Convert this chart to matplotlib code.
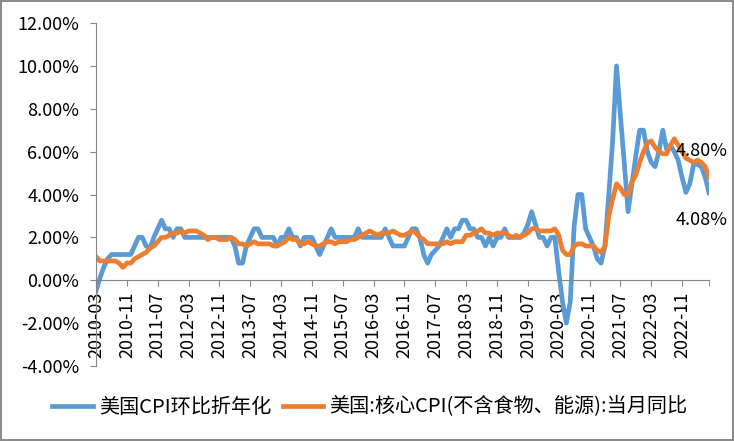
import pandas as pd
import matplotlib.pyplot as plt

plt.rcParams['font.family'] = ['Noto Sans CJK SC', 'DejaVu Sans']

# monthly data, 2010-03 .. 2023-06
months = pd.period_range("2010-03", periods=160, freq="M").strftime("%Y-%m").tolist()

# 美国CPI环比折年化 (%)
cpi_mom_ann = [
    -0.5, 0.1, 0.6, 1.0, 1.2, 1.2, 1.2, 1.2, 1.2, 1.2,              # 2010
    1.6, 2.0, 2.0, 1.6, 1.5, 2.0, 2.4, 2.8, 2.4, 2.4, 2.0, 2.4,      # 2011
    2.4, 2.0, 2.0, 2.0, 2.0, 2.0, 2.0, 2.0, 2.0, 2.0, 2.0, 2.0,      # 2012
    2.0, 2.0, 1.6, 0.8, 0.8, 1.6, 2.0, 2.4, 2.4, 2.0, 2.0, 2.0,      # 2013
    2.0, 1.6, 2.0, 2.0, 2.4, 2.0, 2.0, 1.6, 2.0, 2.0, 2.0, 1.6,      # 2014
    1.2, 1.6, 2.0, 2.4, 2.0, 2.0, 2.0, 2.0, 2.0, 2.0, 2.4, 2.0,      # 2015
    2.0, 2.0, 2.0, 2.0, 2.0, 2.4, 2.0, 1.6, 1.6, 1.6, 1.6, 2.0,      # 2016
    2.4, 2.4, 2.0, 1.2, 0.8, 1.2, 1.4, 1.6, 2.0, 2.4, 2.0, 2.4,      # 2017
    2.4, 2.8, 2.8, 2.4, 2.4, 2.0, 2.0, 1.6, 2.0, 1.6, 2.0, 2.0,      # 2018
    2.4, 2.0, 2.0, 2.0, 2.0, 2.2, 2.6, 3.2, 2.6, 2.0, 2.0, 1.6,      # 2019
    2.0, 2.0, 0.4, -1.0, -2.0, -1.0, 2.5, 4.0, 4.0, 2.4, 2.0, 1.6,   # 2020
    1.0, 0.8, 1.6, 4.0, 6.5, 10.0, 7.7, 5.5, 3.2, 4.5, 5.8, 7.0,     # 2021
    7.0, 6.0, 5.5, 5.3, 6.0, 7.0, 6.1, 6.3, 6.0, 5.6, 4.8, 4.1,      # 2022
    4.5, 5.4, 5.4, 5.3, 4.8, 4.08,                                   # 2023
]

# 美国:核心CPI(不含食物、能源):当月同比 (%)
core_yoy = [
    1.1, 0.9, 0.9, 0.9, 0.9, 0.9, 0.8, 0.6, 0.8, 0.8,
    1.0, 1.1, 1.2, 1.3, 1.5, 1.6, 1.8, 2.0, 2.0, 2.1, 2.2, 2.2,
    2.3, 2.2, 2.3, 2.3, 2.3, 2.2, 2.1, 1.9, 2.0, 2.0, 1.9, 1.9,
    1.9, 2.0, 1.9, 1.7, 1.7, 1.6, 1.7, 1.8, 1.7, 1.7, 1.7, 1.7,
    1.6, 1.6, 1.7, 1.8, 2.0, 1.9, 1.9, 1.7, 1.7, 1.8, 1.7, 1.6,
    1.6, 1.7, 1.8, 1.8, 1.7, 1.8, 1.8, 1.8, 1.9, 1.9, 2.0, 2.1,
    2.2, 2.3, 2.2, 2.1, 2.2, 2.2, 2.2, 2.3, 2.2, 2.1, 2.1, 2.2,
    2.3, 2.2, 2.0, 1.9, 1.7, 1.7, 1.7, 1.7, 1.7, 1.8, 1.7, 1.8,
    1.8, 1.8, 2.1, 2.1, 2.2, 2.3, 2.4, 2.2, 2.2, 2.1, 2.2, 2.2,
    2.2, 2.1, 2.0, 2.1, 2.0, 2.1, 2.2, 2.4, 2.4, 2.3, 2.3, 2.3,
    2.3, 2.4, 2.1, 1.4, 1.2, 1.2, 1.6, 1.7, 1.7, 1.6, 1.6, 1.6,
    1.4, 1.3, 1.6, 3.0, 3.8, 4.5, 4.3, 4.0, 4.0, 4.6, 4.9, 5.5,
    6.0, 6.4, 6.5, 6.2, 6.0, 5.9, 5.9, 6.3, 6.6, 6.3, 6.0, 5.7,
    5.6, 5.5, 5.6, 5.5, 5.3, 4.8,
]

yticks = list(range(-4, 13, 2))
blue = "#5B9BD5"
orange = "#ED7D31"
grey = "#868686"

x = list(range(len(months)))
n = min(len(x), len(cpi_mom_ann), len(core_yoy))

fig = plt.figure(figsize=(7.34, 4.41), dpi=100)
fig.patch.set_edgecolor("#8c8c8c")
fig.patch.set_linewidth(1.5)
ax = fig.add_axes([0.1308, 0.170, 0.966 - 0.1308, 0.9478 - 0.170])

ax.plot(x[:n], cpi_mom_ann[:n], color=blue, lw=3.4, label="美国CPI环比折年化", solid_joinstyle="round")
ax.plot(x[:n], core_yoy[:n], color=orange, lw=3.4, label="美国:核心CPI(不含食物、能源):当月同比", solid_joinstyle="round")

# spines first: moving a spine resets the tick settings
for s in ["top", "right"]:
    ax.spines[s].set_visible(False)
ax.spines["left"].set_color(grey)
ax.spines["bottom"].set_color(grey)
ax.spines["bottom"].set_position(("data", 0))

ax.set_xlim(0, n - 1)
ax.set_ylim(-4, 12)
ax.set_yticks(yticks)
ax.set_yticklabels([f"{v:.2f}%" for v in yticks], fontsize=13)

ax.set_xticks(list(range(0, n - 1, 8)))
ax.set_xticklabels([months[i] for i in range(0, n - 1, 8)], rotation=90, fontsize=13)
ax.set_xticks([n - 1], minor=True)
ax.tick_params(axis="both", which="both", direction="out", length=4, color=grey)
ax.tick_params(axis="y", pad=8)
ax.tick_params(axis="x", pad=4)

# end-value labels
ax.annotate(f"{core_yoy[n-1]:.2f}%", (n - 1, core_yoy[n - 1]), xytext=(-24, 19),
            textcoords="offset points", va="center", ha="left", fontsize=13)
ax.annotate(f"{cpi_mom_ann[n-1]:.2f}%", (n - 1, cpi_mom_ann[n - 1]), xytext=(-24, -19.5),
            textcoords="offset points", va="center", ha="left", fontsize=13)

fig.legend(loc="center", bbox_to_anchor=(0.504, 0.077), ncol=2, frameon=False,
           fontsize=14.5, handlelength=2.0, columnspacing=0.6, handletextpad=0.3)

fig.savefig("out.png", dpi=100, edgecolor=fig.get_edgecolor())
print("Saved out.png")
